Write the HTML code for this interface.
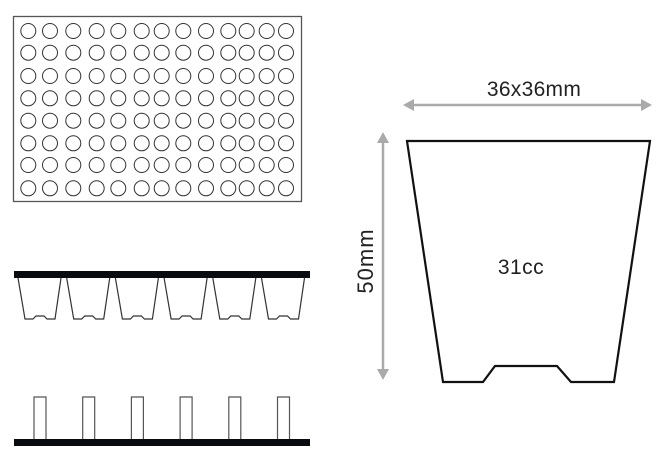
<!DOCTYPE html>
<html><head><meta charset="utf-8"><style>
html,body{margin:0;padding:0;background:#fff;width:665px;height:461px;overflow:hidden}
svg{display:block}
text{font-family:"Liberation Sans",sans-serif;fill:#222}
</style></head><body>
<svg id="s" width="665" height="461" viewBox="0 0 665 461" xmlns="http://www.w3.org/2000/svg">
<rect x="13.5" y="16.5" width="288" height="185" fill="#fff" stroke="#555" stroke-width="1.3"/>
<g id="circ" fill="none" stroke="#333" stroke-width="1"></g>
<rect x="14" y="271" width="296" height="7" fill="#080c10"/>
<g id="cups" fill="none" stroke="#333" stroke-width="1.2"></g>
<g id="posts" fill="none" stroke="#555" stroke-width="1.2"></g>
<rect x="14" y="439" width="296" height="7" fill="#080c10"/>
<g stroke="#aaa" stroke-width="2.5" fill="#aaa">
<line x1="410" y1="105" x2="645" y2="105"/>
<polygon points="403,105 414,99 414,111" stroke="none"/>
<polygon points="652,105 641,99 641,111" stroke="none"/>
<line x1="383" y1="139" x2="383" y2="373"/>
<polygon points="383,132 377,143 389,143" stroke="none"/>
<polygon points="383,380 377,369 389,369" stroke="none"/>
</g>
<text x="534" y="96" font-size="21" text-anchor="middle" letter-spacing="0.3">36x36mm</text>
<text x="0" y="0" font-size="22" text-anchor="middle" letter-spacing="1" transform="translate(373,261) rotate(-90)">50mm</text>
<polygon points="407,141 650,141 614,382 571,382 557,366 495,366 483,382 443,382" fill="none" stroke="#111" stroke-width="2.2" stroke-linejoin="miter"/>
<text x="521" y="274" font-size="21" text-anchor="middle" letter-spacing="0.5">31cc</text>
</svg>
<script>
var ns="http://www.w3.org/2000/svg";
var xs=[28.3,50,73.3,96.7,118.3,141.7,161.7,183.3,206,228.3,246.7,266.7,286];
var ys=[31,52.7,76,98.3,120.7,143.3,165,188.3];
var g=document.getElementById("circ");
ys.forEach(function(y){xs.forEach(function(x){var c=document.createElementNS(ns,"circle");c.setAttribute("cx",x);c.setAttribute("cy",y);c.setAttribute("r",7.5);g.appendChild(c);});});
var cg=document.getElementById("cups"),pg=document.getElementById("posts");
for(var i=0;i<6;i++){var o=i*48.7;
var p=document.createElementNS(ns,"polyline");
p.setAttribute("points",[[18,278],[25,319],[33,319],[36,316],[44,316],[47,319],[55,319],[61,278]].map(function(a){return (a[0]+o)+","+a[1]}).join(" "));
cg.appendChild(p);
var r=document.createElementNS(ns,"polyline");
r.setAttribute("points",[[34,439],[34,397],[46,397],[46,439]].map(function(a){return (a[0]+o)+","+a[1]}).join(" "));
pg.appendChild(r);}
</script>
</body></html>
